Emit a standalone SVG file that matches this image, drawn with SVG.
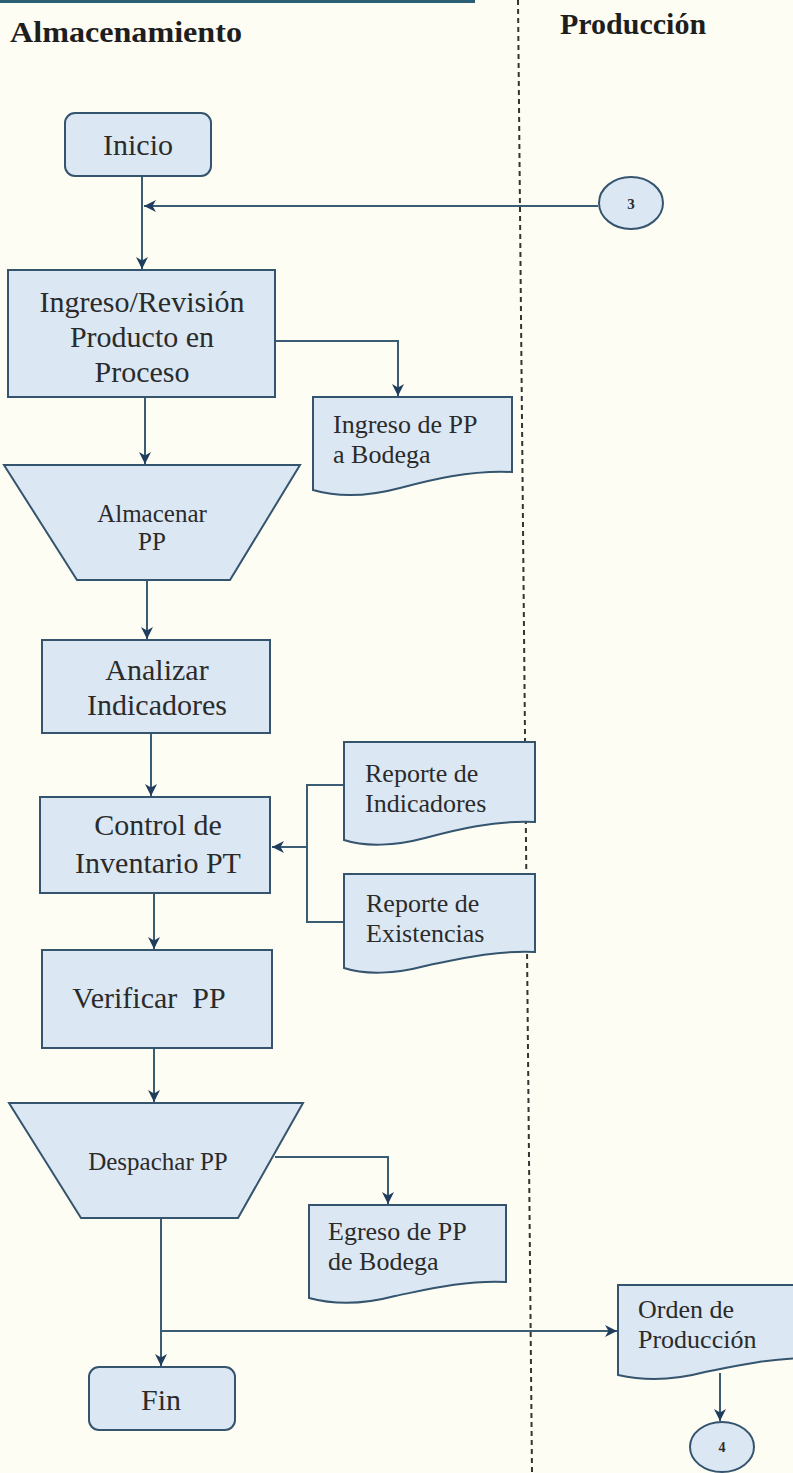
<svg xmlns="http://www.w3.org/2000/svg" width="793" height="1473" viewBox="0 0 793 1473">
<defs>
<marker id="ah" viewBox="0 0 12 12" refX="12" refY="6" markerWidth="12" markerHeight="12" markerUnits="userSpaceOnUse" orient="auto">
<path d="M0,0 L12,6 L0,12 L3.5,6 Z" fill="#1f3d5c"/>
</marker>
<style>
.shape{fill:#dbe8f4;stroke:#35546e;stroke-width:2}
.conn{fill:none;stroke:#3b5d74;stroke-width:2}
.t{font-family:"Liberation Serif","Times New Roman",serif;fill:#2b2b2b}
.big{font-size:30px}
.mid{font-size:26px}
.c{text-anchor:middle}
.hdr{font-family:"Liberation Serif","Times New Roman",serif;font-weight:bold;font-size:30px;fill:#1e1e1e}
</style>
</defs>
<rect x="0" y="0" width="793" height="1473" fill="#fefdf3"/>
<rect x="0" y="0" width="475" height="3" fill="#2b5f73"/>
<line x1="518" y1="0" x2="532" y2="1473" stroke="#333" stroke-width="2" stroke-dasharray="5,4"/>
<text class="hdr" x="10" y="42" textLength="232" lengthAdjust="spacingAndGlyphs">Almacenamiento</text>
<text class="hdr" x="560" y="34">Producción</text>

<g id="connectors">
<path class="conn" d="M142,177 V269" marker-end="url(#ah)"/>
<path class="conn" d="M598,206 H144" marker-end="url(#ah)"/>
<path class="conn" d="M275,341 H398 V396" marker-end="url(#ah)"/>
<path class="conn" d="M145,397 V464" marker-end="url(#ah)"/>
<path class="conn" d="M147,580 V639" marker-end="url(#ah)"/>
<path class="conn" d="M151,733 V796" marker-end="url(#ah)"/>
<path class="conn" d="M344,785 H307 V922 H344"/>
<path class="conn" d="M307,847 H272" marker-end="url(#ah)"/>
<path class="conn" d="M154,893 V949" marker-end="url(#ah)"/>
<path class="conn" d="M154,1048 V1102" marker-end="url(#ah)"/>
<path class="conn" d="M275,1157 H388 V1204" marker-end="url(#ah)"/>
<path class="conn" d="M161,1218 V1366" marker-end="url(#ah)"/>
<path class="conn" d="M161,1331 H617" marker-end="url(#ah)"/>
<path class="conn" d="M720,1373 V1421" marker-end="url(#ah)"/>
</g>

<g id="inicio">
<rect class="shape" x="65" y="113" width="146" height="63" rx="10"/>
<text class="t big c" x="138" y="155">Inicio</text>
</g>

<g id="conector3">
<ellipse class="shape" cx="631" cy="203" rx="32" ry="26"/>
<text class="t c" x="631" y="209" font-size="15" font-weight="bold">3</text>
</g>

<g id="ingreso">
<rect class="shape" x="8" y="270" width="267" height="127"/>
<text class="t big c" x="142" y="312">Ingreso/Revisión</text>
<text class="t big c" x="142" y="347">Producto en</text>
<text class="t big c" x="142" y="382">Proceso</text>
</g>

<g id="doc-ingreso">
<path class="shape" d="M313,397 H512 V472 C470,470 430,480 400,488 C370,496 340,498 313,490 Z"/>
<text class="t mid" x="333" y="433">Ingreso de PP</text>
<text class="t mid" x="333" y="463">a Bodega</text>
</g>

<g id="almacenar">
<path class="shape" d="M4,465 H300 L230,580 H77 Z"/>
<text class="t c" x="152" y="522" font-size="25">Almacenar</text>
<text class="t c" x="152" y="550" font-size="25">PP</text>
</g>

<g id="analizar">
<rect class="shape" x="42" y="640" width="228" height="93"/>
<text class="t big c" x="157" y="680">Analizar</text>
<text class="t big c" x="157" y="715">Indicadores</text>
</g>

<g id="control">
<rect class="shape" x="40" y="797" width="230" height="96"/>
<text class="t big c" x="158" y="835">Control de</text>
<text class="t big c" x="158" y="873">Inventario PT</text>
</g>

<g id="doc-indicadores">
<path class="shape" d="M344,742 H535 V822 C495,820 455,830 425,838 C395,846 365,847 344,840 Z"/>
<text class="t mid" x="365" y="782">Reporte de</text>
<text class="t mid" x="365" y="812">Indicadores</text>
</g>

<g id="doc-existencias">
<path class="shape" d="M344,874 H535 V952 C495,950 455,960 425,966 C395,974 365,975 344,968 Z"/>
<text class="t mid" x="366" y="912">Reporte de</text>
<text class="t mid" x="366" y="942">Existencias</text>
</g>

<g id="verificar">
<rect class="shape" x="42" y="950" width="230" height="98"/>
<text class="t big c" x="149" y="1008" xml:space="preserve">Verificar  PP</text>
</g>

<g id="despachar">
<path class="shape" d="M9,1103 H303 L238,1218 H81 Z"/>
<text class="t c" x="158" y="1170" font-size="25">Despachar PP</text>
</g>

<g id="doc-egreso">
<path class="shape" d="M309,1205 H506 V1282 C465,1280 425,1290 395,1296 C365,1304 335,1305 309,1298 Z"/>
<text class="t mid" x="328" y="1240">Egreso de PP</text>
<text class="t mid" x="328" y="1270">de Bodega</text>
</g>

<g id="fin">
<rect class="shape" x="89" y="1367" width="146" height="63" rx="10"/>
<text class="t big c" x="161" y="1410">Fin</text>
</g>

<g id="doc-orden">
<path class="shape" d="M618,1285 H810 V1358 C770,1358 735,1366 705,1372 C675,1380 645,1381 618,1375 Z"/>
<text class="t mid" x="638" y="1318">Orden de</text>
<text class="t mid" x="638" y="1348">Producción</text>
</g>

<g id="conector4">
<ellipse class="shape" cx="722" cy="1447" rx="32" ry="25"/>
<text class="t c" x="722" y="1452" font-size="14" font-weight="bold">4</text>
</g>
</svg>
